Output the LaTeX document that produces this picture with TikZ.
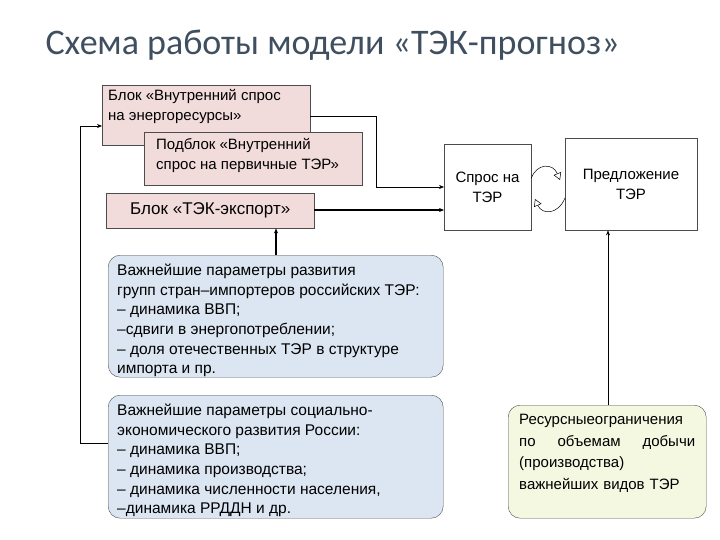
\documentclass[tikz,border=0pt]{standalone}
\usepackage{fontspec}
\setmainfont{Liberation Sans}
\newfontfamily\titlefont{Carlito}
\usetikzlibrary{arrows.meta}
\definecolor{pink}{HTML}{F2DCDB}
\definecolor{lblue}{HTML}{DCE6F2}
\definecolor{lgreen}{HTML}{F4F8E0}
\definecolor{ttl}{HTML}{3F4F60}
\begin{document}
\begin{tikzpicture}[x=1pt,y=-1pt,
 pbox/.style={draw=black!70,fill=pink,inner sep=0pt},
 wbox/.style={draw=black!70,fill=white,inner sep=0pt},
 rbox/.style={draw=black!70,rounded corners=12pt,inner sep=0pt},
 txt/.style={font=\fontsize{15.5}{19.6}\selectfont,align=left,anchor=north west,inner sep=0pt},
 stxt/.style={font=\fontsize{15}{20}\selectfont,align=left,anchor=north west,inner sep=0pt},
 arr/.style={-{Stealth[length=5pt,width=4pt]},line width=0.6pt}]
\useasboundingbox (0,0) rectangle (720,540);
\node[anchor=west,text=ttl,font=\titlefont\fontsize{36}{40}\selectfont] (title) at (42,45) {Схема работы модели «ТЭК-прогноз»};
\node[pbox,minimum width=208pt,minimum height=60pt,anchor=north west] (A) at (102,85) {};
\node[stxt] at (108,89) {Блок «Внутренний спрос\\на энергоресурсы»};
\node[pbox,minimum width=218pt,minimum height=53pt,anchor=north west] (B) at (144,132) {};
\node[stxt] at (156,138) {Подблок «Внутренний\\спрос на первичные ТЭР»};
\node[pbox,minimum width=208pt,minimum height=35pt,anchor=north west,font=\fontsize{17}{18}\selectfont] (C) at (106,193) {Блок «ТЭК-экспорт»};
\node[wbox,minimum width=87pt,minimum height=86pt,anchor=north west] (S) at (444,144) {};
\node[stxt,align=center,anchor=center] at (487.5,187) {Спрос на\\ТЭР};
\node[wbox,minimum width=132pt,minimum height=92pt,anchor=north west] (P) at (565,138) {};
\node[stxt,align=center,anchor=center] at (631,184) {Предложение\\ТЭР};
\node[rbox,fill=lblue,minimum width=335pt,minimum height=122pt,anchor=north west] (D1) at (108,255) {};
\node[txt] at (117,264) {Важнейшие параметры развития\\групп стран–импортеров российских ТЭР:\\– динамика ВВП;\\–сдвиги в энергопотреблении;\\– доля отечественных ТЭР в структуре\\импорта и пр.};
\node[rbox,fill=lblue,minimum width=335pt,minimum height=123pt,anchor=north west] (D2) at (108,395) {};
\node[txt] at (117,404) {Важнейшие параметры социально-\\экономического развития России:\\– динамика ВВП;\\– динамика производства;\\– динамика численности населения,\\–динамика РРДДН и др.};
\node[rbox,fill=lgreen,minimum width=198pt,minimum height=113pt,anchor=north west] (G) at (508,405) {};
\node[txt,text width=176pt,font=\fontsize{15}{21.5}\selectfont] at (519,414) {Ресурсныеограничения\\по\hfill объемам\hfill добычи\\(производства)\\важнейших видов ТЭР};
\coordinate (l1) at (80,443);
\coordinate (l2) at (80,126);
\draw[arr] (D2.west |- l1) -- (l1) -- (l2) -- (A.west |- l2);
\coordinate (r1) at (376,116);
\coordinate (r2) at (376,187);
\draw[arr] (A.east |- r1) -- (r1) -- (r2) -- (S.west |- r2);
\draw[arr,line width=1.2pt] (C.east |- 0,210) -- (S.west |- 0,210);
\draw[arr,line width=1.2pt] (D1.north -| 276,0) -- (C.south -| 276,0);
\draw[arr] (G.north -| 608,0) -- (P.south -| 608,0);
\draw[-{Triangle[open,length=7pt,width=8pt]},line width=0.5pt] (S.east |- 0,178) .. controls (537,163) and (553,163) .. (560,180);
\draw[-{Triangle[open,length=7pt,width=8pt]},line width=0.5pt] (P.west |- 0,198) .. controls (558,215) and (542,215) .. (535,199);
\end{tikzpicture}
\end{document}
